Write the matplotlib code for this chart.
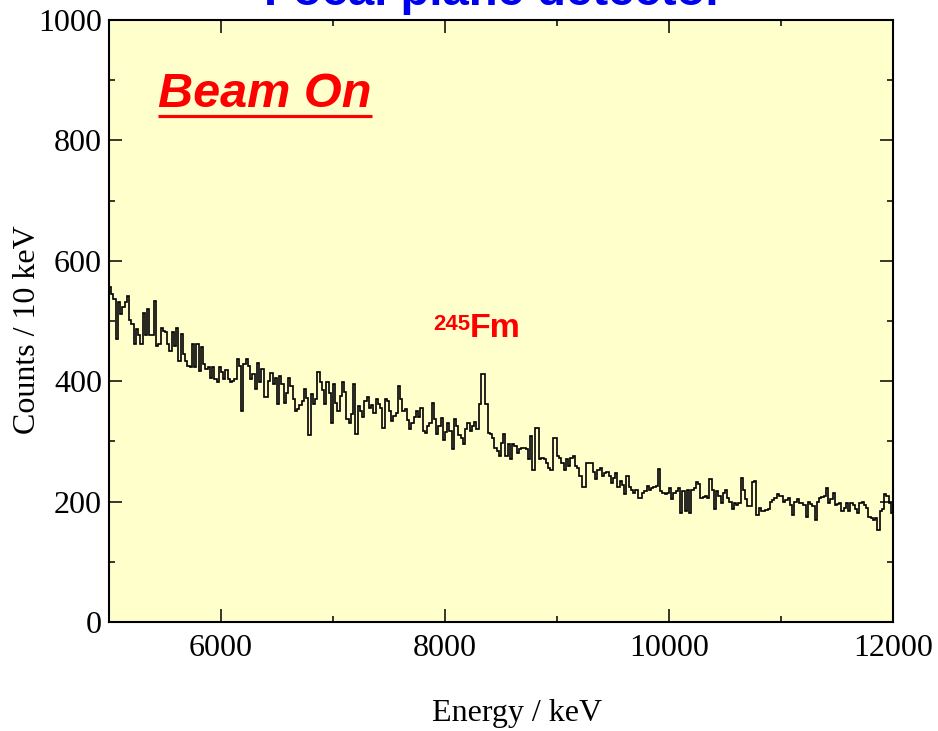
import numpy as np
import matplotlib
matplotlib.use('Agg')
import matplotlib.pyplot as plt
from matplotlib.ticker import MultipleLocator

# spectrum: 20 keV bins starting at 5000 keV
e_start = 5000
bin_width = 20

counts_5000_6520 = [
    556, 545, 537, 470, 531, 512, 523, 531, 542, 501,
    495, 462, 487, 476, 462, 514, 476, 520, 476, 476,
    534, 459, 462, 489, 484, 481, 462, 450, 481, 459,
    489, 434, 478, 445, 434, 425, 423, 462, 423, 462,
    417, 456, 428, 420, 423, 406, 423, 403, 398, 423,
    415, 403, 418, 403, 398, 401, 403, 437, 425, 351,
    428, 437, 425, 403, 412, 387, 431, 398, 420, 373,
    373, 401, 414, 395, 406, 362,
]

counts_6520_8280 = [
    409, 395, 364, 380, 406, 392, 370, 351, 353, 360,
    367, 387, 372, 310, 378, 362, 370, 415, 398, 385,
    362, 398, 380, 331, 395, 364, 350, 376, 398, 382,
    337, 331, 345, 395, 312, 359, 351, 340, 367, 373,
    356, 360, 348, 370, 362, 355, 323, 370, 367, 350,
    334, 342, 348, 392, 370, 351, 353, 335, 320, 331,
    340, 351, 340, 356, 317, 314, 325, 330, 364, 337,
    312, 325, 339, 303, 315, 331, 318, 287, 337, 326,
    310, 306, 295, 320, 330, 318, 325, 332,
]

counts_8280_9740 = [
    320, 362, 412, 412, 362, 314, 312, 306, 289, 284,
    275, 298, 312, 275, 295, 270, 295, 292, 281, 287,
    289, 289, 287, 270, 309, 253, 323, 323, 270, 273,
    270, 264, 256, 253, 306, 306, 275, 272, 264, 253,
    270, 259, 272, 275, 259, 256, 242, 225, 225, 264,
    264, 264, 250, 237, 253, 256, 242, 248, 250, 242,
    231, 240, 248, 225, 234, 228, 212, 242, 225, 220,
    214, 220, 206,
]

counts_9740_12000 = [
    206, 215, 218, 226, 220, 223, 224, 226, 254, 218,
    215, 212, 215, 223, 204, 215, 218, 223, 181, 218,
    184, 220, 181, 220, 222, 232, 229, 206, 208, 209,
    206, 237, 220, 187, 218, 210, 198, 215, 220, 206,
    200, 187, 198, 195, 198, 240, 220, 205, 192, 192,
    232, 235, 178, 190, 184, 184, 186, 187, 200, 203,
    206, 212, 210, 209, 200, 203, 206, 195, 178, 200,
    204, 198, 197, 195, 175, 200, 196, 192, 169, 200,
    206, 208, 209, 223, 198, 205, 215, 195, 196, 198,
    184, 190, 198, 184, 198, 195, 188, 181, 198, 200,
    195, 189, 175, 172, 169, 172, 153, 184, 187, 212,
    209, 198, 181,
]

counts = counts_5000_6520 + counts_6520_8280 + counts_8280_9740 + counts_9740_12000

x_ticks = [6000, 8000, 10000, 12000]
y_ticks = [0, 200, 400, 600, 800, 1000]


def make_plot():
    W, H = 938, 731
    fig = plt.figure(figsize=(W / 100, H / 100), dpi=100)
    ax = fig.add_axes([109 / W, 109 / H, 784 / W, 602 / H])
    ax.set_facecolor('#ffffcc')

    edges = e_start + bin_width * np.arange(len(counts) + 1)
    ax.stairs(counts, edges, color='black', lw=1.2)

    ax.set_xlim(5000, 12000)
    ax.set_ylim(0, 1000)
    ax.set_xticks(x_ticks)
    ax.set_yticks(y_ticks)
    ax.xaxis.set_minor_locator(MultipleLocator(1000))
    ax.yaxis.set_minor_locator(MultipleLocator(100))
    ax.tick_params(which='both', direction='in', top=True, right=True,
                   width=1.1, labelsize=23)
    ax.tick_params(axis='y', pad=5)
    ax.tick_params(axis='x', pad=9)
    ax.tick_params(which='major', length=9.5)
    ax.tick_params(which='minor', length=4.3)
    for lab in ax.get_xticklabels() + ax.get_yticklabels():
        lab.set_fontfamily('Liberation Serif')
    for sp in ax.spines.values():
        sp.set_linewidth(1.5)

    fig.text(0.551, 0.0137, 'Energy / keV', family='Liberation Serif',
             fontsize=23, ha='center', va='baseline')
    fig.text(0.029, 0.5486, 'Counts / 10 keV', family='Liberation Serif',
             fontsize=23, rotation=90, ha='center', va='center')

    fig.text(0.527, 0.9932, 'Focal plane detector', family='Liberation Sans',
             fontweight='bold', fontsize=34, color='#0000f0',
             ha='center', va='baseline')

    beam = ax.text(0.0625, 0.8555, 'Beam On', transform=ax.transAxes,
                   family='Liberation Sans', fontweight='bold', style='italic',
                   fontsize=35, color='red', va='baseline')

    ax.text(8223, 473, 'Fm', family='Liberation Sans', fontweight='bold',
            fontsize=24.5, color='red', va='baseline', ha='left')
    ax.text(8223, 485, '245', family='Liberation Sans', fontweight='bold',
            fontsize=16, color='red', va='baseline', ha='right')

    # underline for "Beam On"
    fig.canvas.draw()
    bb = beam.get_window_extent().transformed(ax.transAxes.inverted())
    ax.plot([bb.x0, bb.x1], [0.841, 0.841], transform=ax.transAxes,
            color='red', lw=2.3, clip_on=False, solid_capstyle='butt')

    fig.savefig('out.png', dpi=100)


if __name__ == '__main__':
    make_plot()
